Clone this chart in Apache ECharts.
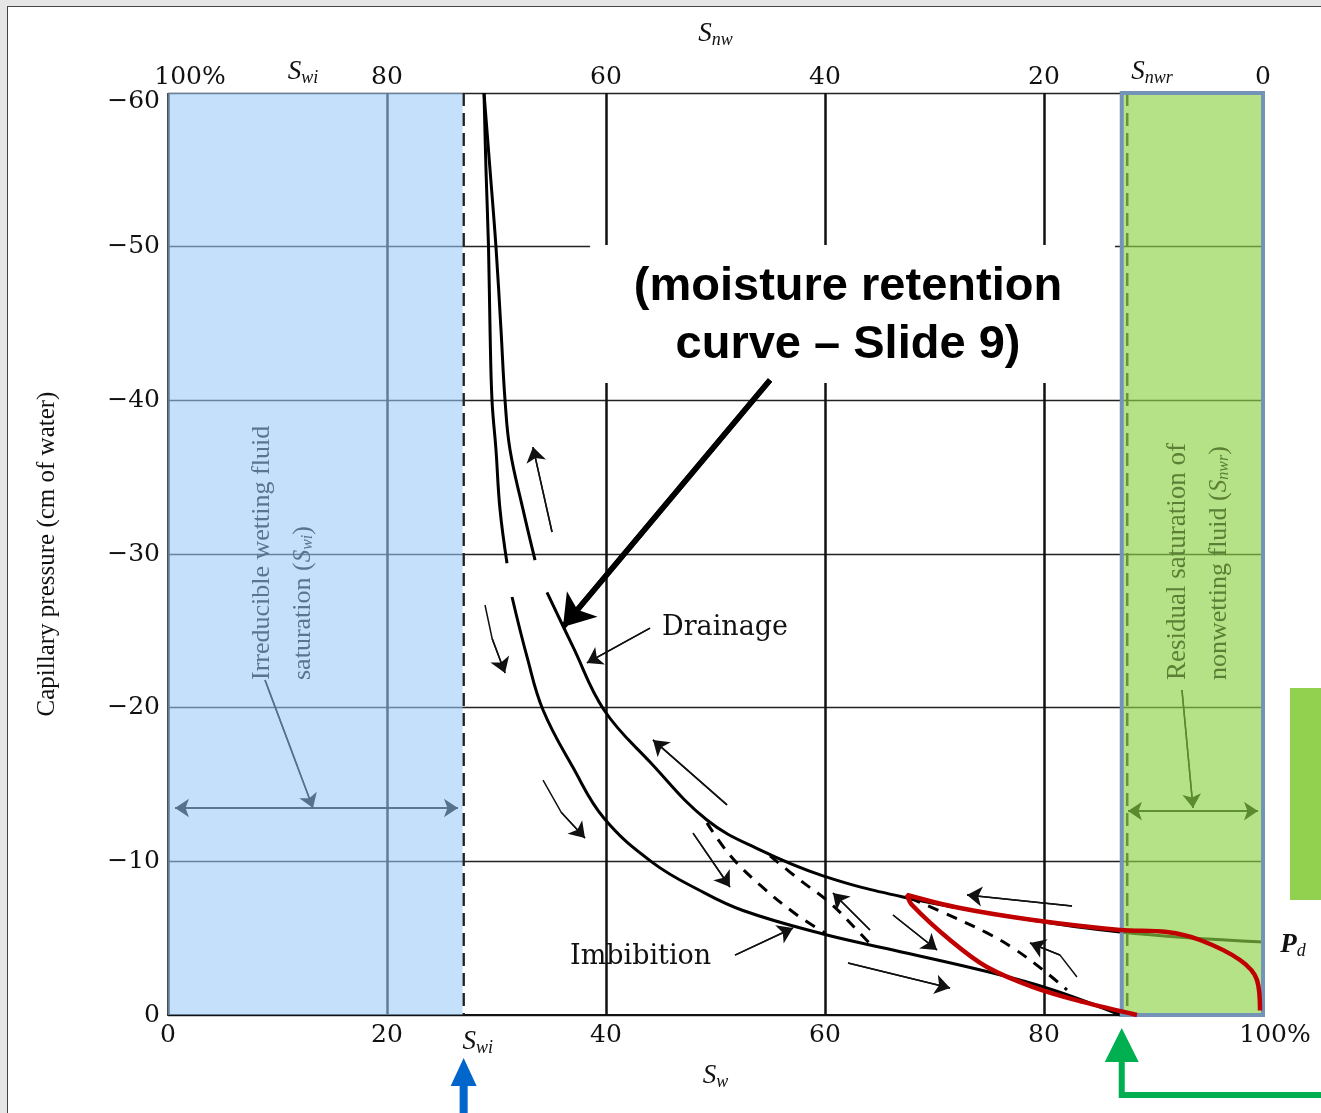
<!DOCTYPE html>
<html><head><meta charset="utf-8">
<script src="https://cdn.jsdelivr.net/npm/echarts@6/dist/echarts.min.js"></script>
<style>
html,body{margin:0;padding:0;background:#e6e6e6;width:1321px;height:1113px;overflow:hidden}
#frame{position:absolute;left:7px;top:6px;width:1320px;height:1110px;background:#fff;border-left:1.5px solid #444;border-top:1.5px solid #444}
#c{position:absolute;left:0;top:0;width:1321px;height:1113px}
</style>
</head><body><div id="frame"></div><div id="c"></div>
<script>
// ---- axis ticks ----
const swTicks = [0, 20, 40, 60, 80, 100];
const pcTicks = [-60, -50, -40, -30, -20, -10, 0];
const swi = 27;      // irreducible wetting fluid saturation (%)
const snwrEdge = 87; // 100 - Snwr (%)
const pd = -4.75;    // displacement pressure

// ---- curves [Sw %, Pc cm] ----
const imbibitionUpper = [[28.86,-60],[29.04,-55],[29.27,-50],[29.41,-44.6],[29.59,-40],[29.95,-36.8],[30.32,-32.9],[30.96,-29.4]];
const imbibitionLower = [[31.42,-27.2],[32.79,-23.3],[34.25,-19.85],[36.99,-16.1],[39.82,-12.8],[44.29,-9.9],[48.58,-8.1],[52.51,-6.8],[59.82,-5.27],[66.21,-4.23],[75.34,-2.73],[80.82,-1.63],[87.0,0]];
const drainageUpper = [[28.86,-60],[29.41,-55],[29.95,-50],[30.41,-44.6],[30.78,-40],[31.23,-36.8],[32.42,-32.9],[33.52,-29.6]];
const drainageLower = [[34.61,-27.5],[36.99,-23.95],[39.82,-19.85],[44.02,-16.46],[49.22,-12.69],[54.06,-10.74],[59.82,-9.05],[67.12,-7.68],[75.98,-6.51],[86.94,-5.4],[100,pd]];
const scanA = [[49.22,-12.5],[51.32,-10.4],[54.06,-8.46],[57.44,-6.51],[60.0,-5.34]];
const scanB = [[54.98,-10.35],[57.72,-8.78],[60.46,-7.29],[62.74,-5.66],[64.29,-4.49]];
const scanC = [[67.76,-7.61],[71.69,-6.38],[74.79,-5.34],[77.17,-4.36],[79.91,-2.93],[82.1,-1.63]];
const redLoop = [[88.49,0],[83.56,-0.85],[79.0,-1.82],[74.79,-3.12],[71.42,-4.88],[67.95,-7.16],[67.49,-7.81],[72.33,-6.96],[79.0,-6.18],[86.94,-5.53],[91.23,-5.4],[94.25,-4.88],[97.9,-3.58],[99.45,-2.28],[99.73,-0.3]];

// ---- annotation arrows [Sw, Pc] (last point = arrow tip) ----
const flowArrows = [
  [[35.07,-31.43],[33.33,-36.96]],
  [[28.95,-26.68],[29.6,-24.5],[30.78,-22.26]],
  [[44.02,-25.18],[38.26,-22.91]],
  [[34.25,-15.29],[35.9,-13.2],[38.08,-11.52]],
  [[51.05,-13.67],[44.29,-17.9]],
  [[47.95,-11.84],[51.32,-8.33]],
  [[64.11,-5.53],[60.73,-7.94]],
  [[51.78,-3.9],[57.08,-5.66]],
  [[66.21,-6.51],[70.23,-4.23]],
  [[62.1,-3.38],[71.42,-1.76]],
  [[82.56,-7.09],[72.97,-7.81]],
  [[83.01,-2.47],[81.46,-3.9],[78.72,-4.69]]
];
const swiPointer = [[8.86,-21.8],[13.24,-13.47]];
const swiSpan = [[0.64,-13.47],[26.48,-13.47]];
const snwrPointer = [[92.6,-21.15],[93.61,-13.47]];
const snwrSpan = [[87.67,-13.27],[99.54,-13.27]];
const calloutArrow = [[54.98,-41.32],[36.07,-25.25]];

const SERIF = 'Liberation Serif, DejaVu Serif, serif';
const WSERIF = 'DejaVu Serif, Liberation Serif, serif';
const chart = echarts.init(document.getElementById('c'), null, {renderer:'canvas'});

function curve(data, opts) {
  return Object.assign({
    type:'line', data:data, showSymbol:false, symbol:'none', smooth:0.4, z:2, silent:true,
    lineStyle:{color:'#000', width:3}, clip:false, animation:false
  }, opts || {});
}
function arrowSeries(list, color, width, size, z, both) {
  return [{
    type:'lines', coordinateSystem:'cartesian2d', polyline:true, z:z, silent:true,
    symbol:'none', lineStyle:{color:color, width:width, opacity:1},
    data:list.map(c => ({coords:c}))
  },{
    type:'lines', coordinateSystem:'cartesian2d', polyline:false, z:z, silent:true,
    symbol:[both ? 'arrow' : 'none', 'arrow'], symbolSize:size,
    lineStyle:{color:color, width:width, opacity:1, curveness:0},
    data:list.map(c => ({coords:[c[c.length-2], c[c.length-1]]}))
  }];
}
const richSub = {
  S:{fontFamily:SERIF, fontStyle:'italic', fontSize:27, color:'#111', lineHeight:30, verticalAlign:'middle'},
  sub:{fontFamily:SERIF, fontStyle:'italic', fontSize:18, color:'#111', lineHeight:20, verticalAlign:'bottom', padding:[12,0,0,0]}
};
const tickRich = {
  pl:{fontFamily:WSERIF, fontSize:25, color:'#111', padding:[0,0,0,44]},
  pr:{fontFamily:WSERIF, fontSize:25, color:'#111', padding:[0,0,0,24]},
  lo:{fontFamily:WSERIF, fontSize:25, color:'#111', padding:[16,0,0,0]}
};

const option = {
  animation:false,
  grid:{left:168, right:58, top:93, bottom:98},
  xAxis:[{
    type:'value', min:0, max:100, interval:20, position:'bottom',
    axisLine:{show:true, lineStyle:{color:'#111', width:2}}, axisTick:{show:false},
    axisLabel:{fontFamily:WSERIF, fontSize:25, color:'#111', margin:8, rich:tickRich,
      formatter:v => v===100 ? '{pr|100%}' : String(v)},
    splitLine:{show:true, lineStyle:{color:'#111', width:2.5}},
    name:'{S|S}{sub|w}', nameLocation:'middle', nameGap:46, nameTextStyle:{rich:richSub}
  },{
    type:'value', min:0, max:100, interval:20, position:'top',
    axisLine:{show:false}, axisTick:{show:false}, splitLine:{show:false},
    axisLabel:{fontFamily:WSERIF, fontSize:25, color:'#111', margin:3, rich:tickRich,
      formatter:v => v===0 ? '{pl|100%}' : String(100-v)},
    name:'{S|S}{sub|nw}', nameLocation:'middle', nameGap:44, nameTextStyle:{rich:richSub}
  }],
  yAxis:{
    type:'value', min:-60, max:0, interval:10, inverse:true,
    axisLine:{show:false}, axisTick:{show:false},
    axisLabel:{fontFamily:WSERIF, fontSize:25, color:'#111', margin:8, rich:tickRich,
      formatter:v => v===0 ? '0' : (v===-60 ? '{lo|\u221260}' : '\u2212' + Math.abs(v))},
    splitLine:{show:true, lineStyle:{color:'#222', width:1.4}},
    name:'Capillary pressure (cm of water)', nameLocation:'middle', nameGap:108, nameRotate:90,
    nameTextStyle:{fontFamily:SERIF, fontSize:25, color:'#111'}
  },
  series:[
    curve(imbibitionUpper),
    curve(imbibitionLower),
    curve(drainageUpper),
    curve(drainageLower),
    curve(scanA, {lineStyle:{color:'#000', width:3, type:[11,9]}}),
    curve(scanB, {lineStyle:{color:'#000', width:3, type:[11,9]}}),
    curve(scanC, {lineStyle:{color:'#000', width:3, type:[11,9]}}),
    curve([[swi,-60],[swi,0]], {smooth:false, lineStyle:{color:'#222', width:2.5, type:[13,7]}}),
    curve([[snwrEdge+0.6,-60],[snwrEdge+0.6,0]], {smooth:false, lineStyle:{color:'#222', width:2.5, type:[13,7]}}),
    {
      type:'line', data:[], z:3, silent:true,
      markArea:{
        silent:true, z:3,
        data:[
          [{xAxis:-0.45, yAxis:-60.4, itemStyle:{color:'rgba(155,202,248,0.58)', borderWidth:0}}, {xAxis:swi-0.1, yAxis:0}],
          [{xAxis:snwrEdge+0.1, yAxis:-60.4, itemStyle:{color:'rgba(142,211,69,0.65)', borderColor:'#7393b9', borderWidth:4}}, {xAxis:100.15, yAxis:0}]
        ]
      }
    },
    curve(redLoop, {z:5, smooth:0.35, lineStyle:{color:'#c00000', width:4.5}})
  ]
  .concat(arrowSeries(flowArrows, '#111', 1.5, 15, 6, false))
  .concat(arrowSeries([swiPointer], '#56718c', 1.5, 14, 6, false))
  .concat(arrowSeries([swiSpan], '#56718c', 1.5, 14, 6, true))
  .concat(arrowSeries([snwrPointer], '#5b8a2f', 1.5, 14, 6, false))
  .concat(arrowSeries([snwrSpan], '#5b8a2f', 1.5, 14, 6, true))
  .concat(arrowSeries([calloutArrow], '#000', 5.5, 30, 12, false))
};
chart.setOption(option);

const P = (x, y) => chart.convertToPixel({xAxisIndex:0, yAxisIndex:0}, [x, y]);
const xSwi = P(swi, 0)[0];
const xSnwr = P(snwrEdge + 0.1, 0)[0];
const yBase = P(0, 0)[1];

const rich2 = {
  S:{fontFamily:SERIF, fontStyle:'italic', fontSize:27, fill:'#111', lineHeight:30, verticalAlign:'middle'},
  sub:{fontFamily:SERIF, fontStyle:'italic', fontSize:18, fill:'#111', lineHeight:20, verticalAlign:'bottom', padding:[12,0,0,0]}
};
function richRot(col) {
  return {S:{fontFamily:SERIF, fontStyle:'italic', fontSize:25, fill:col}, sub:{fontFamily:SERIF, fontStyle:'italic', fontSize:16, fill:col, verticalAlign:'bottom', padding:[9,0,0,0]}};
}

chart.setOption({
  graphic:{elements:[
    // callout box
    {type:'rect', z:10, silent:true, shape:{x:590, y:245, width:525, height:138}, style:{fill:'#fff'}},
    {type:'text', z:11, silent:true, x:848, y:287, style:{text:'(moisture retention', font:'bold 47px "Liberation Sans", Arial, sans-serif', fill:'#000', textAlign:'center', textVerticalAlign:'middle'}},
    {type:'text', z:11, silent:true, x:848, y:345, style:{text:'curve \u2013 Slide 9)', font:'bold 47px "Liberation Sans", Arial, sans-serif', fill:'#000', textAlign:'center', textVerticalAlign:'middle'}},
    // curve labels
    {type:'text', z:11, silent:true, x:662, y:628, style:{text:'Drainage', font:'27px ' + WSERIF, fill:'#111', textAlign:'left', textVerticalAlign:'middle'}},
    {type:'text', z:11, silent:true, x:570, y:957, style:{text:'Imbibition', font:'27px ' + WSERIF, fill:'#111', textAlign:'left', textVerticalAlign:'middle'}},
    // rotated region labels
    {type:'text', z:11, silent:true, x:262, y:680, rotation:Math.PI/2, style:{text:'Irreducible wetting fluid', font:'26px ' + SERIF, fill:'#5a7590', textAlign:'left', textVerticalAlign:'middle'}},
    {type:'text', z:11, silent:true, x:303, y:680, rotation:Math.PI/2, style:{text:'saturation ({S|S}{sub|wi})', font:'26px ' + SERIF, fill:'#5a7590', textAlign:'left', textVerticalAlign:'middle', rich:richRot('#5a7590')}},
    {type:'text', z:11, silent:true, x:1178, y:680, rotation:Math.PI/2, style:{text:'Residual saturation of', font:'27px ' + SERIF, fill:'#5b7f35', textAlign:'left', textVerticalAlign:'middle'}},
    {type:'text', z:11, silent:true, x:1219, y:680, rotation:Math.PI/2, style:{text:'nonwetting fluid ({S|S}{sub|nwr})', font:'26px ' + SERIF, fill:'#5b7f35', textAlign:'left', textVerticalAlign:'middle', rich:richRot('#5b7f35')}},
    // extra axis labels
    {type:'text', z:11, silent:true, x:303, y:72, style:{text:'{S|S}{sub|wi}', rich:rich2, textAlign:'center', textVerticalAlign:'middle'}},
    {type:'text', z:11, silent:true, x:1152, y:72, style:{text:'{S|S}{sub|nwr}', rich:rich2, textAlign:'center', textVerticalAlign:'middle'}},
    {type:'text', z:11, silent:true, x:xSwi + 14, y:yBase + 27, style:{text:'{S|S}{sub|wi}', rich:rich2, textAlign:'center', textVerticalAlign:'middle'}},
    {type:'text', z:11, silent:true, x:1293, y:945, style:{text:'{P|P}{d|d}', textAlign:'center', textVerticalAlign:'middle',
      rich:{P:{fontFamily:SERIF, fontStyle:'italic', fontWeight:'bold', fontSize:27, fill:'#111', lineHeight:30, verticalAlign:'middle'}, d:{fontFamily:SERIF, fontStyle:'italic', fontSize:18, fill:'#111', lineHeight:20, verticalAlign:'bottom', padding:[12,0,0,0]}}}},
    // right green bar
    {type:'rect', z:11, silent:true, shape:{x:1290, y:688, width:40, height:212}, style:{fill:'#92d050'}},
    // blue arrow under Swi
    {type:'polygon', z:11, silent:true, shape:{points:[[xSwi,1058],[xSwi+13,1086],[xSwi+4,1086],[xSwi+4,1120],[xSwi-4,1120],[xSwi-4,1086],[xSwi-13,1086]]}, style:{fill:'#0066cc'}},
    // green arrow under Snwr edge
    {type:'polygon', z:11, silent:true, shape:{points:[[xSnwr,1028],[xSnwr+17,1062],[xSnwr+3,1062],[xSnwr+3,1092],[1330,1092],[1330,1098],[xSnwr-3,1098],[xSnwr-3,1062],[xSnwr-17,1062]]}, style:{fill:'#00b050'}}
  ]}
});
</script>
</body></html>
